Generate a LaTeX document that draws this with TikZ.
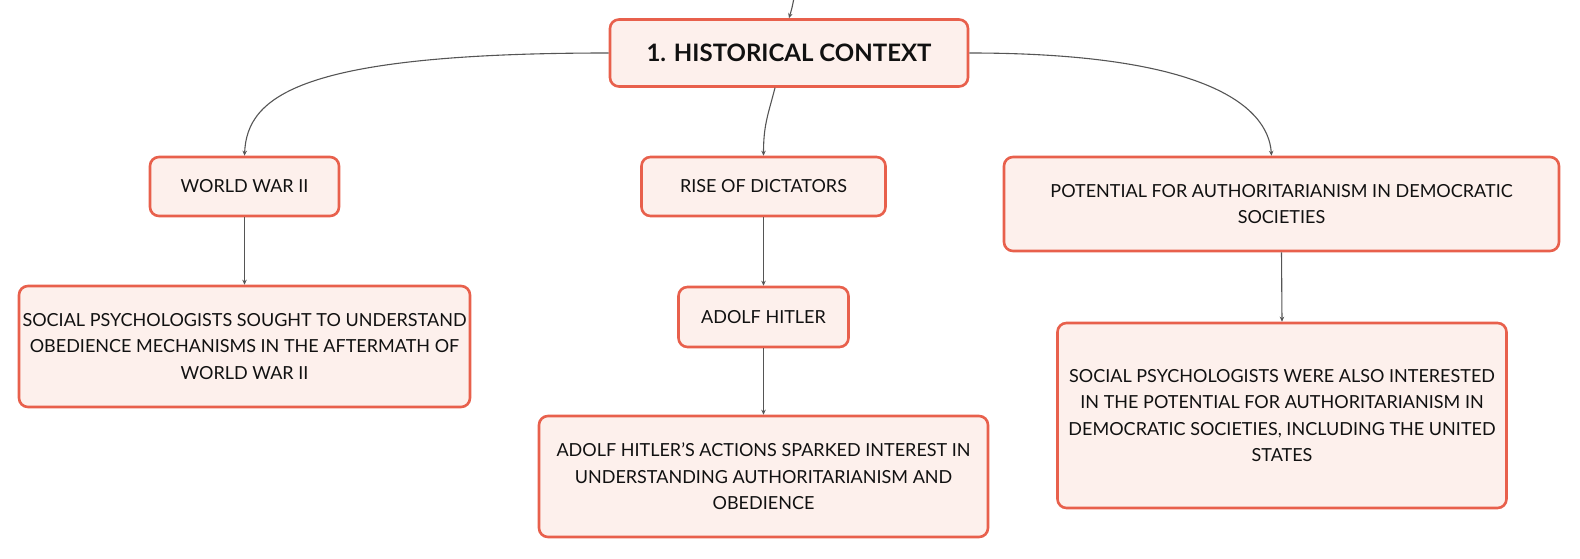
\documentclass[tikz,border=0pt]{standalone}
\usepackage{fontspec}
\setmainfont{Lato}
\usetikzlibrary{arrows.meta}
\definecolor{boxborder}{HTML}{E8604C}
\definecolor{boxfill}{HTML}{FDF0EC}
\definecolor{linkgray}{HTML}{555555}
\definecolor{txt}{HTML}{111111}
\tikzset{
  box/.style={draw=boxborder, fill=boxfill, line width=2.6pt, rounded corners=9pt,
    align=center, text=txt, font=\fontsize{18}{26.5}\selectfont, inner sep=0pt},
  titlebox/.style={box, font=\fontsize{24}{28}\selectfont\bfseries},
  link/.style={draw=linkgray, line width=1.1pt, -{Stealth[length=5pt,width=4.5pt]}}
}
\begin{document}
\begin{tikzpicture}[x=1pt,y=-1pt]
\useasboundingbox (0,0) rectangle (1580,559);
\node[titlebox, minimum width=358pt, minimum height=67pt] (title) at (789,53) {1. HISTORICAL CONTEXT};
\node[box, minimum width=189pt, minimum height=59pt] (ww) at (244.5,186.5) {WORLD WAR II};
\node[box, minimum width=244pt, minimum height=59pt] (rise) at (763.5,186.5) {RISE OF DICTATORS};
\node[box, minimum width=555pt, minimum height=94pt] (pot) at (1281.5,204) {POTENTIAL FOR AUTHORITARIANISM IN DEMOCRATIC\\SOCIETIES};
\node[box, minimum width=451pt, minimum height=121pt] (sp1) at (244.5,346.5) {SOCIAL PSYCHOLOGISTS SOUGHT TO UNDERSTAND\\OBEDIENCE MECHANISMS IN THE AFTERMATH OF\\WORLD WAR II};
\node[box, minimum width=170pt, minimum height=60pt] (hit) at (763.5,317) {ADOLF HITLER};
\node[box, minimum width=449pt, minimum height=121pt] (act) at (763.5,476.5) {ADOLF HITLER'S ACTIONS SPARKED INTEREST IN\\UNDERSTANDING AUTHORITARIANISM AND\\OBEDIENCE};
\node[box, minimum width=449pt, minimum height=185pt] (sp2) at (1282,415.5) {SOCIAL PSYCHOLOGISTS WERE ALSO INTERESTED\\IN THE POTENTIAL FOR AUTHORITARIANISM IN\\DEMOCRATIC SOCIETIES, INCLUDING THE UNITED\\STATES};
\coordinate (top) at (794,-2);
\draw[link] (top) .. controls (792,8) .. (title.north);
\draw[link] (title.west) .. controls (300,53) and (247,96) .. (ww.north);
\draw[link] (title.east) .. controls (1200,53) and (1268,104) .. ([xshift=-10pt]pot.north);
\draw[link] ([xshift=-14pt]title.south) .. controls (768,115) and (763.5,125) .. (rise.north);
\draw[link] (ww.south) -- (sp1.north);
\draw[link] (rise.south) -- (hit.north);
\draw[link] (hit.south) -- (act.north);
\draw[link] (pot.south) -- (sp2.north);
\end{tikzpicture}
\end{document}
